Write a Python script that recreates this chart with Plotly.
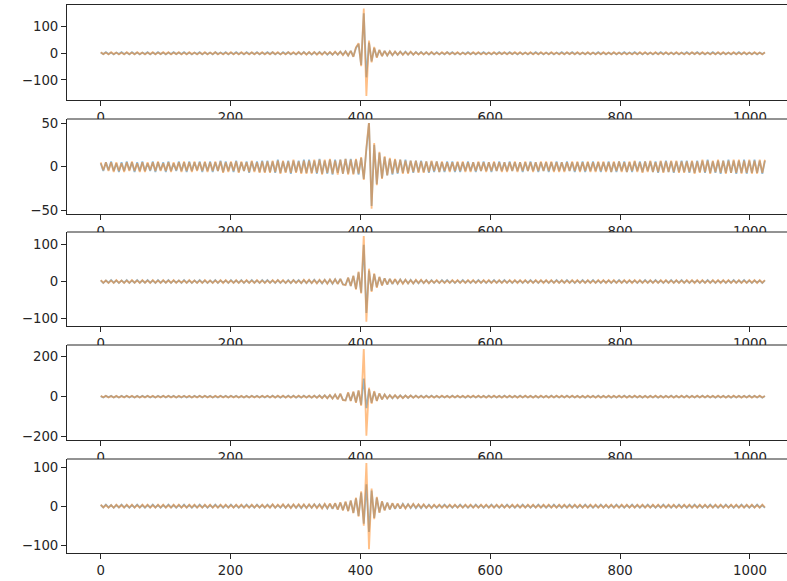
import numpy as np
import plotly.graph_objects as go

# ---------------- data (every 4th sample) ----------------
p1_blue = [3,-3,4,-3,3,-4,3,-3,4,-3,3,-4,4,-3,3,-4,
3,-3,4,-4,3,-3,4,-3,3,-4,3,-3,4,-3,3,-3,
4,-3,3,-4,3,-3,4,-4,3,-3,3,-4,4,-3,3,-3,
4,-4,3,-3,4,-3,3,-4,4,-3,3,-3,4,-4,3,-3,
4,-3,4,-4,3,-4,4,-3,4,-4,3,-4,4,-4,5,-4,
4,-5,4,-4,5,-4,5,-5,4,-5,5,-5,6,-6,7,-8,
9,-12,20,35,-44,150,-90,40,-30,20,-15,12,-10,9,-8,7,
-7,6,-6,6,-5,6,-5,5,-5,5,-4,5,-4,4,-5,4,
-4,4,-4,3,-4,4,-3,4,-4,3,-4,3,-3,4,-3,3,
-4,3,-3,4,-3,3,-4,3,-3,4,-3,3,-3,4,-3,3,
-4,3,-3,3,-4,3,-3,4,-3,3,-4,3,-3,3,-4,3,
-3,4,-3,3,-3,4,-3,3,-4,3,-3,3,-4,3,-3,4,
-3,3,-4,3,-3,3,-4,3,-3,4,-3,3,-3,4,-3,3,
-4,3,-3,3,-4,3,-3,4,-3,3,-4,3,-3,3,-4,3,
-3,4,-3,3,-3,4,-3,3,-4,3,-3,4,-3,3,-4,3,
-3,3,-4,3,-3,4,-3,3,-4,3,-3,3,-4,3,-3,3]
p1_orange = [4,-3,3,-4,4,-3,3,-4,3,-4,4,-3,3,-4,4,-3,
3,-4,3,-3,4,-4,3,-3,4,-3,4,-4,3,-3,4,-4,
3,-4,4,-3,3,-4,3,-3,4,-4,3,-3,4,-4,3,-4,
3,-3,4,-4,3,-4,4,-3,3,-4,4,-4,3,-3,4,-4,
3,-4,4,-3,4,-4,3,-4,4,-3,4,-4,5,-4,4,-5,
5,-4,5,-5,4,-5,5,-4,5,-5,6,-5,6,-7,7,-8,
9,-13,22,38,-48,168,-160,48,-34,24,-17,13,-11,9,-8,8,
-7,7,-6,6,-6,5,-5,6,-5,4,-5,4,-5,4,-4,5,
-4,3,-4,4,-3,4,-4,3,-3,4,-4,3,-4,3,-4,4,
-3,4,-4,3,-4,3,-3,4,-4,3,-3,4,-4,3,-3,4,
-3,4,-4,3,-3,4,-4,3,-4,4,-3,3,-4,4,-3,3,
-4,3,-4,4,-3,3,-4,4,-3,3,-4,4,-3,3,-4,3,
-4,4,-3,3,-4,4,-3,3,-4,3,-4,3,-4,3,-4,4,
-3,4,-4,3,-3,4,-4,3,-4,4,-3,3,-4,4,-3,3,
-4,3,-4,4,-3,3,-4,4,-3,3,-4,3,-4,4,-3,4,
-4,3,-3,4,-4,3,-4,4,-3,3,-4,4,-3,3,-4,4]

p2_blue = [4,-5,5,-4,6,-5,4,-6,5,-5,6,-4,5,-6,5,-5,
6,-5,4,-5,6,-6,5,-4,5,-6,6,-5,4,-5,6,-5,
5,-6,6,-5,5,-4,6,-6,5,-5,6,-6,5,-5,7,-6,
6,-5,5,-6,7,-6,5,-5,6,-7,6,-5,6,-6,7,-6,
7,-6,6,-7,8,-7,6,-6,7,-8,7,-6,7,-7,8,-7,
8,-7,7,-8,9,-8,7,-8,8,-9,8,-7,8,-8,9,-8,
9,-8,8,-9,10,-14,20,50,-45,25,-20,16,-13,11,-10,9,
-9,8,-8,8,-7,8,-7,7,-7,7,-6,7,-6,6,-7,6,
-6,6,-6,5,-6,6,-5,6,-6,5,-6,5,-5,6,-5,5,
-6,5,-5,6,-5,5,-6,5,-5,6,-5,5,-5,6,-5,5,
-5,5,-6,5,-5,6,-5,5,-6,5,-5,5,-6,5,-5,6,
-5,5,-5,6,-5,5,-6,5,-5,6,-6,5,-5,6,-5,5,
-6,5,-5,6,-6,5,-6,6,-5,6,-6,5,-6,6,-5,6,
-6,6,-5,6,-6,6,-7,6,-6,7,-6,6,-7,6,-6,7,
-6,7,-7,6,-7,7,-6,7,-7,8,-7,6,-7,7,-8,7,
-7,8,-7,7,-8,7,-7,8,-8,7,-7,8,-7,7,-8,7]
p2_orange = [5,-4,5,-5,5,-6,5,-5,4,-6,5,-5,6,-5,4,-6,
5,-6,5,-4,5,-5,6,-5,4,-5,5,-6,5,-4,5,-6,
6,-5,5,-6,6,-5,5,-5,6,-6,5,-5,6,-5,6,-7,
5,-6,6,-5,6,-7,6,-5,5,-6,7,-6,5,-7,6,-7,
6,-7,7,-6,7,-8,7,-7,6,-7,8,-7,6,-8,7,-8,
7,-8,8,-7,8,-9,8,-7,9,-8,7,-9,8,-8,9,-9,
8,-9,9,-8,11,-15,22,52,-48,27,-21,17,-14,12,-10,10,
-8,9,-7,8,-8,7,-8,7,-6,7,-7,6,-7,6,-6,7,
-5,6,-6,6,-5,5,-6,5,-5,6,-5,6,-6,5,-6,5,
-5,6,-5,5,-6,5,-5,6,-5,5,-6,5,-6,5,-5,6,
-6,5,-5,6,-5,5,-6,5,-5,6,-5,6,-5,6,-6,5,
-6,5,-6,5,-5,6,-5,6,-6,5,-5,6,-6,5,-6,6,
-5,6,-6,5,-6,6,-5,6,-6,5,-6,6,-5,7,-6,5,
-7,6,-6,7,-6,5,-6,7,-7,6,-6,7,-6,7,-7,6,
-7,6,-6,7,-8,6,-7,8,-6,7,-8,7,-6,8,-7,7,
-8,7,-7,8,-7,8,-8,7,-7,8,-8,7,-8,8,-7,8]

p3_blue = [3,-4,3,-3,4,-3,3,-4,3,-3,4,-4,3,-3,4,-3,
3,-3,4,-3,3,-4,4,-3,3,-3,4,-4,3,-3,3,-4,
4,-3,3,-4,3,-3,4,-3,3,-4,3,-3,4,-4,3,-3,
3,-4,4,-3,3,-3,4,-4,3,-3,4,-3,3,-4,4,-3,
4,-3,3,-4,4,-4,3,-4,4,-4,4,-3,4,-4,4,-4,
4,-4,5,-4,4,-5,5,-5,5,-6,6,-6,7,-8,-9,10,
-12,15,-20,25,-30,100,-85,30,-25,20,-15,12,-10,9,-8,7,
-7,6,-6,6,-5,5,-5,5,-5,4,-5,4,-4,4,-4,4,
-4,3,-4,4,-3,4,-3,3,-4,3,-3,4,-3,3,-4,3,
-3,4,-3,3,-4,3,-3,4,-3,3,-3,4,-3,3,-4,3,
-3,3,-4,3,-3,4,-3,3,-4,3,-3,3,-4,3,-3,4,
-3,3,-3,4,-3,3,-4,3,-3,4,-3,3,-3,4,-3,3,
-4,3,-3,3,-4,3,-3,4,-3,3,-4,3,-3,3,-4,3,
-3,4,-3,3,-3,4,-3,3,-4,3,-3,4,-3,3,-3,4,
-3,3,-4,3,-3,3,-4,3,-3,4,-3,3,-4,3,-3,3,
-4,3,-3,4,-3,3,-3,4,-3,3,-4,3,-3,3,-4,3]
p3_orange = [4,-3,3,-4,3,-4,4,-3,3,-4,3,-3,4,-3,3,-4,
4,-3,3,-4,4,-3,3,-4,4,-3,3,-3,4,-4,3,-3,
3,-4,4,-3,3,-4,3,-4,4,-3,3,-4,3,-3,4,-4,
4,-3,3,-4,4,-4,3,-3,4,-4,3,-4,4,-3,3,-4,
3,-4,4,-3,4,-3,4,-4,3,-4,4,-4,3,-4,5,-4,
5,-4,4,-5,5,-4,5,-6,6,-5,6,-7,7,-8,-10,11,
-12,16,-22,27,-32,127,-109,35,-28,22,-17,13,-11,9,-8,7,
-6,7,-6,5,-6,5,-5,4,-5,5,-4,5,-4,4,-5,3,
-3,4,-4,3,-4,3,-4,4,-3,4,-4,3,-4,4,-3,4,
-4,3,-4,4,-3,4,-4,3,-4,4,-4,3,-4,4,-3,4,
-4,4,-3,4,-4,3,-4,4,-3,4,-4,4,-3,4,-4,3,
-4,4,-4,3,-4,4,-3,4,-4,3,-4,4,-4,3,-4,4,
-3,4,-4,4,-3,4,-4,3,-4,4,-3,4,-4,4,-3,4,
-4,3,-4,4,-4,3,-4,4,-3,4,-4,3,-4,4,-4,3,
-4,4,-3,4,-4,4,-3,4,-4,3,-4,4,-3,4,-4,4,
-3,4,-4,3,-4,4,-4,3,-4,4,-3,4,-4,4,-3,4]

p4_blue = [3,-4,4,-3,4,-4,3,-4,4,-3,4,-4,3,-4,4,-4,
4,-3,4,-4,3,-4,4,-3,4,-4,4,-3,4,-4,3,-4,
4,-4,3,-4,4,-3,4,-4,4,-3,4,-4,3,-4,4,-3,
4,-4,4,-3,4,-4,3,-4,4,-4,4,-3,4,-4,4,-4,
4,-4,5,-4,4,-5,4,-4,5,-4,5,-5,4,-5,5,-4,
4,-5,5,-5,6,-6,7,-7,8,-9,10,-12,14,-16,-18,20,
-20,24,-28,30,-40,90,-57,37,-30,25,-20,16,-13,11,-9,8,
-8,7,-7,7,-6,6,-6,6,-5,5,-5,5,-5,5,-4,5,
-4,4,-5,4,-4,4,-4,5,-4,4,-4,4,-5,4,-4,4,
-4,4,-4,4,-4,5,-4,4,-4,4,-4,5,-4,4,-4,4,
-4,5,-4,4,-4,4,-4,4,-5,4,-4,4,-4,5,-4,4,
-4,4,-4,5,-4,4,-4,4,-4,4,-5,4,-4,4,-4,5,
-4,4,-4,4,-5,4,-4,4,-4,5,-4,4,-4,4,-4,4,
-5,4,-4,4,-4,4,-5,4,-4,4,-4,5,-4,4,-4,4,
-4,5,-4,4,-4,4,-4,5,-4,4,-4,4,-5,4,-4,4,
-4,4,-5,4,-4,4,-4,4,-4,5,-4,4,-4,4,-5,4]
p4_orange = [4,-3,4,-4,3,-4,4,-4,3,-4,4,-3,4,-4,3,-4,
3,-4,4,-3,4,-4,3,-4,4,-3,4,-4,3,-4,4,-3,
4,-3,4,-4,3,-4,4,-3,4,-4,3,-4,4,-3,4,-4,
3,-4,4,-4,3,-4,4,-4,3,-4,4,-4,3,-4,4,-3,
5,-4,4,-5,5,-4,5,-5,4,-5,4,-4,5,-4,4,-5,
5,-5,5,-6,6,-7,7,-8,9,-10,11,-13,15,-17,-19,22,
-22,26,-30,32,-45,243,-195,45,-35,28,-22,17,-14,11,-9,8,
-7,8,-7,6,-7,6,-5,6,-6,5,-5,4,-5,4,-5,4,
-5,4,-4,5,-4,4,-5,4,-4,5,-4,4,-4,5,-4,5,
-4,5,-4,4,-5,4,-4,5,-4,4,-5,4,-4,5,-4,4,
-5,4,-4,5,-4,4,-5,4,-4,5,-4,4,-5,4,-4,5,
-4,5,-4,4,-4,5,-4,4,-5,4,-4,5,-4,4,-5,4,
-5,4,-4,5,-4,4,-4,5,-4,4,-5,4,-4,5,-4,4,
-4,4,-5,4,-4,5,-4,4,-5,4,-4,4,-5,4,-4,5,
-4,4,-5,4,-4,5,-4,4,-4,5,-4,4,-4,5,-4,4,
-5,4,-4,5,-4,4,-5,4,-4,4,-5,4,-4,5,-4,4]

p5_blue = [3,-3,4,-3,3,-4,3,-3,4,-3,3,-4,3,-3,4,-3,
3,-4,3,-3,4,-3,3,-4,3,-3,4,-3,3,-4,3,-3,
4,-3,3,-4,3,-3,4,-3,3,-4,3,-3,4,-3,3,-4,
3,-3,4,-3,3,-4,3,-3,4,-3,3,-4,4,-3,3,-4,
4,-3,4,-4,3,-4,4,-4,4,-4,4,-4,4,-5,4,-4,
4,-4,5,-4,5,-5,5,-6,6,-7,7,-8,9,-10,11,-12,
14,-17,20,-25,35,-45,56,-66,40,-30,22,-16,12,-10,9,-8,
7,-7,6,-6,6,-5,5,-5,5,-5,4,-5,4,-4,4,-4,
3,-4,3,-3,4,-3,3,-4,3,-3,4,-3,3,-4,3,-3,
4,-3,3,-4,3,-3,4,-3,3,-4,3,-3,4,-3,3,-4,
3,-3,4,-3,3,-4,3,-3,4,-3,3,-4,3,-3,4,-3,
3,-4,3,-3,4,-3,3,-4,3,-3,4,-3,3,-4,3,-3,
4,-3,3,-4,3,-3,4,-3,3,-4,3,-3,4,-3,3,-4,
3,-3,4,-3,3,-4,3,-3,4,-3,3,-4,3,-3,4,-3,
3,-4,3,-3,4,-3,3,-4,3,-3,4,-3,3,-4,3,-3,
4,-3,3,-4,3,-3,4,-3,3,-4,3,-3,4,-3,3,-4]
p5_orange = [4,-3,3,-4,3,-4,4,-3,3,-4,4,-3,4,-4,3,-4,
4,-3,4,-4,3,-4,4,-3,4,-4,3,-4,4,-3,4,-4,
3,-4,4,-3,4,-4,3,-4,4,-3,4,-4,3,-4,4,-3,
4,-4,3,-4,4,-3,4,-4,3,-4,4,-3,3,-4,4,-3,
3,-4,5,-4,4,-3,5,-4,4,-5,5,-4,5,-4,5,-5,
5,-4,5,-5,4,-6,6,-5,7,-6,8,-9,10,-11,12,-13,
15,-18,22,-27,38,-50,112,-110,45,-33,24,-17,13,-11,9,-8,
8,-6,7,-6,5,-6,5,-4,6,-4,5,-4,5,-4,3,-5,
4,-3,4,-4,3,-4,4,-3,4,-4,3,-4,4,-3,4,-4,
3,-4,4,-3,4,-4,3,-4,4,-3,4,-4,3,-4,4,-3,
4,-4,3,-4,4,-3,4,-4,3,-4,4,-3,4,-4,3,-4,
4,-3,4,-4,3,-4,4,-3,4,-4,3,-4,4,-3,4,-4,
3,-4,4,-3,4,-4,3,-4,4,-3,4,-4,3,-4,4,-3,
4,-4,3,-4,4,-3,4,-4,3,-4,4,-3,4,-4,3,-4,
4,-3,4,-4,3,-4,4,-3,4,-4,3,-4,4,-3,4,-4,
3,-4,4,-3,4,-4,3,-4,4,-3,4,-4,3,-4,4,-3]

x_ticks = [0, 200, 400, 600, 800, 1000]
y_ticks = [[-100, 0, 100], [-50, 0, 50], [-100, 0, 100], [-200, 0, 200], [-100, 0, 100]]
y_ranges = [[-175, 181], [-54.1, 54.6], [-120.7, 134.6], [-216, 258], [-120, 121]]

series = [(p1_blue, p1_orange), (p2_blue, p2_orange), (p3_blue, p3_orange),
          (p4_blue, p4_orange), (p5_blue, p5_orange)]

# ---------------- figure ----------------
W, H = 787, 581
ML, MR, MT, MB = 67, 0, 5, 28
panel_px = [(5, 100), (119, 214), (232, 326), (345, 440), (459, 553)]
ph = H - MT - MB

BLUE = "rgba(31,119,180,0.5)"
ORANGE = "rgba(255,127,14,0.5)"
AX = "#262626"
FONT = "DejaVu Sans, Arial, sans-serif"

fig = go.Figure()
layout = dict(width=W, height=H, margin=dict(l=ML, r=MR, t=MT, b=MB),
              paper_bgcolor="white", plot_bgcolor="white", showlegend=False,
              font=dict(family=FONT, size=13.3, color=AX))
shapes = []

for k, (b, o) in enumerate(series):
    n = len(b)
    xs = np.linspace(0, 1023, n)
    sfx = "" if k == 0 else str(k + 1)
    fig.add_trace(go.Scatter(x=xs, y=b, mode="lines", line=dict(color=BLUE, width=1.8),
                             xaxis="x" + sfx, yaxis="y" + sfx, hoverinfo="skip"))
    fig.add_trace(go.Scatter(x=xs, y=o, mode="lines", line=dict(color=ORANGE, width=1.8),
                             xaxis="x" + sfx, yaxis="y" + sfx, hoverinfo="skip"))
    top, bot = panel_px[k]
    d0 = (H - MB - bot) / ph
    d1 = (H - MB - top) / ph
    layout["xaxis" + sfx] = dict(domain=[0, 1], range=[-51.9, 1057], anchor="y" + sfx,
                                 tickmode="array", tickvals=x_ticks, ticks="outside",
                                 ticklen=5, tickwidth=1, tickcolor=AX,
                                 showline=True, linecolor=AX, linewidth=1, mirror=(k == 0),
                                 showgrid=False, zeroline=False)
    layout["yaxis" + sfx] = dict(domain=[d0, d1], range=y_ranges[k], anchor="x" + sfx,
                                 tickmode="array", tickvals=y_ticks[k], ticks="outside",
                                 ticklen=5, tickwidth=1, tickcolor=AX,
                                 showline=True, linecolor=AX, linewidth=1,
                                 showgrid=False, zeroline=False)
    if k > 0:
        # the panel below hides the lower part of the tick labels of the panel above
        hpx = bot - top
        shapes.append(dict(type="rect", xref="x%s domain" % sfx, yref="y%s domain" % sfx,
                           x0=0, x1=1, y0=1 - 4.0 / hpx, y1=1, fillcolor="white",
                           line=dict(width=0), layer="above"))
        shapes.append(dict(type="line", xref="x%s domain" % sfx, yref="y%s domain" % sfx,
                           x0=0, x1=1, y0=1, y1=1, line=dict(color=AX, width=1),
                           layer="above"))

layout["shapes"] = shapes
fig.update_layout(**layout)
fig.write_html("out.html", config={"displayModeBar": False},
               post_script="document.body.style.margin='0';document.body.style.overflow='hidden';")
